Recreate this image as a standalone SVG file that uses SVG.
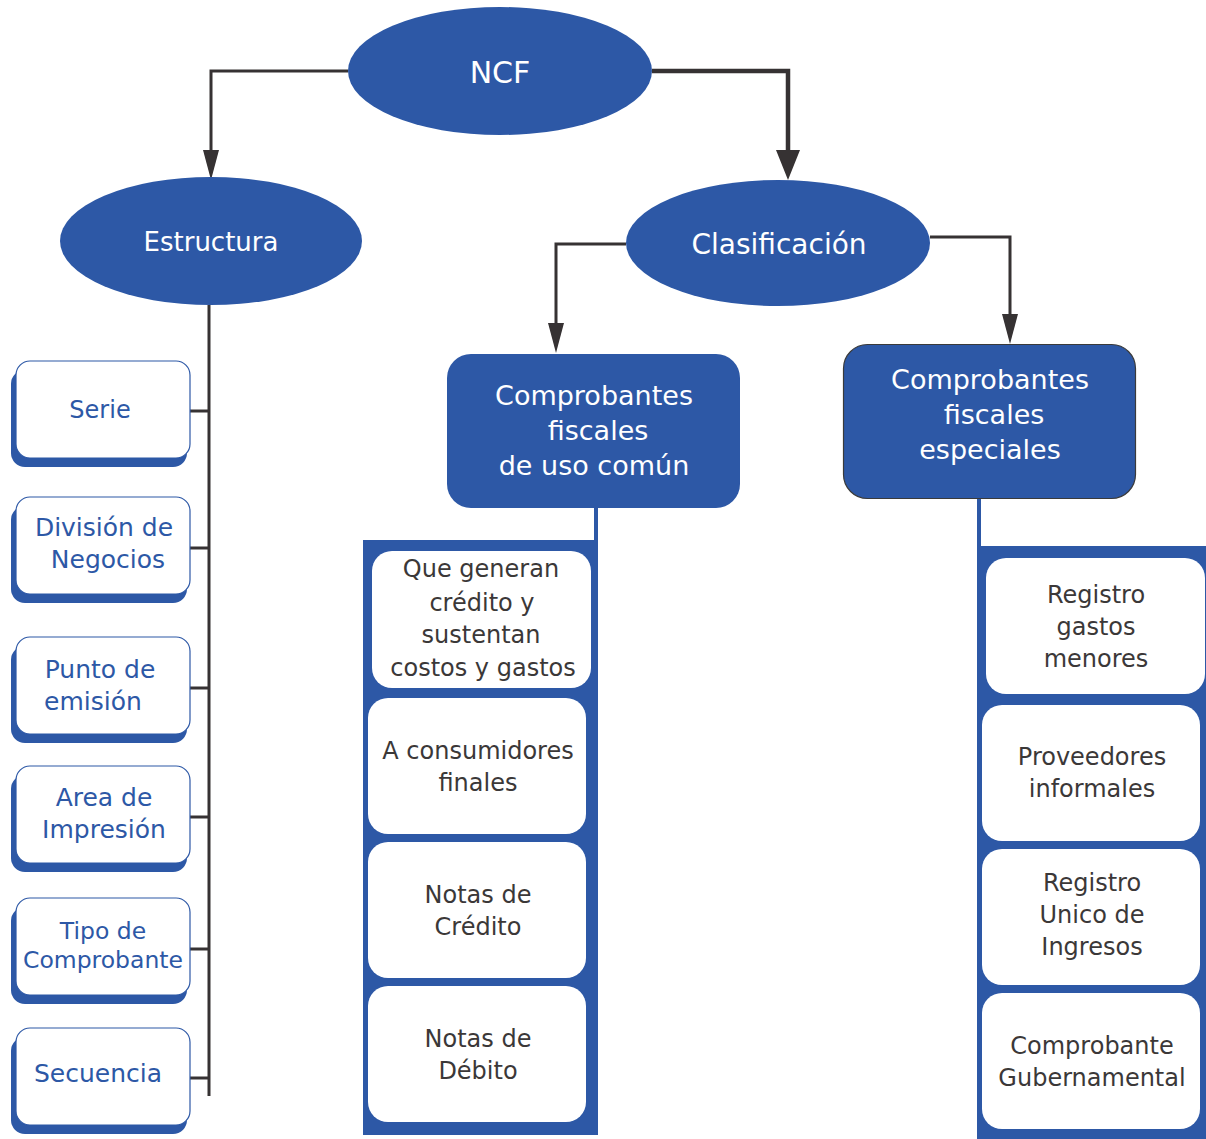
<svg xmlns="http://www.w3.org/2000/svg" width="1206" height="1139" viewBox="0 0 1206 1139">
<style>
text{font-family:"DejaVu Sans","Liberation Sans",sans-serif;text-anchor:middle;dominant-baseline:central}
.blue{fill:#2d58a6}
.wt{fill:#ffffff}
.lb{fill:#2d58a6;font-size:25px}
.gt{fill:#3b3838;font-size:24px}
.lbox{fill:#ffffff;stroke:#2d58a6;stroke-width:1.2}
.shadow{fill:#2d58a6}
.ibox{fill:#ffffff}
.ln{stroke:#363233;fill:none}
.ah{fill:#363233}
</style>
<rect width="1206" height="1139" fill="#ffffff"/>
<g id="connectors">
<polyline class="ln" stroke-width="3" points="348,71 211,71 211,152"/>
<polygon class="ah" points="203,150 219,150 211,180"/>
<polyline class="ln" stroke-width="4.5" points="652,71 788,71 788,152"/>
<polygon class="ah" points="776,150 800,150 788,180"/>
<polyline class="ln" stroke-width="3" points="626,244 556,244 556,325"/>
<polygon class="ah" points="548,323 564,323 556,353"/>
<polyline class="ln" stroke-width="3" points="930,237 1010,237 1010,316"/>
<polygon class="ah" points="1002,314 1018,314 1010,344"/>
<line class="ln" stroke-width="3" x1="209" y1="305" x2="209" y2="1096"/>
<line class="ln" stroke-width="3" x1="190" y1="411" x2="209" y2="411"/>
<line class="ln" stroke-width="3" x1="190" y1="548" x2="209" y2="548"/>
<line class="ln" stroke-width="3" x1="190" y1="688" x2="209" y2="688"/>
<line class="ln" stroke-width="3" x1="190" y1="817" x2="209" y2="817"/>
<line class="ln" stroke-width="3" x1="190" y1="949" x2="209" y2="949"/>
<line class="ln" stroke-width="3" x1="190" y1="1078" x2="209" y2="1078"/>
<rect class="blue" x="594" y="505" width="4" height="38"/>
<rect class="blue" x="977" y="495" width="4" height="54"/>
</g>
<g id="ncf">
<ellipse class="blue" cx="500" cy="71" rx="152" ry="64"/>
<text x="500" y="72" class="wt" style="font-size:30px">NCF</text>
</g>
<g id="estructura">
<ellipse class="blue" cx="211" cy="241" rx="151" ry="64"/>
<text x="211" y="242" class="wt" style="font-size:26px">Estructura</text>
</g>
<g id="clasificacion">
<ellipse class="blue" cx="778" cy="243" rx="152" ry="63"/>
<text x="779" y="244" class="wt" style="font-size:28px">Clasificación</text>
</g>
<g id="serie">
<rect class="shadow" x="11" y="370" width="176" height="97" rx="14"/>
<rect class="lbox" x="16" y="361" width="174" height="97" rx="14"/>
<text x="100" y="410" class="lb" style="font-size:24px">Serie</text>
</g>
<g id="division">
<rect class="shadow" x="11" y="506" width="176" height="97" rx="14"/>
<rect class="lbox" x="16" y="497" width="174" height="97" rx="14"/>
<text x="104" y="527" class="lb">División de</text>
<text x="108" y="559" class="lb">Negocios</text>
</g>
<g id="punto">
<rect class="shadow" x="11" y="646" width="176" height="97" rx="14"/>
<rect class="lbox" x="16" y="637" width="174" height="97" rx="14"/>
<text x="100" y="669" class="lb">Punto de</text>
<text x="93" y="701" class="lb">emisión</text>
</g>
<g id="area">
<rect class="shadow" x="11" y="775" width="176" height="97" rx="14"/>
<rect class="lbox" x="16" y="766" width="174" height="97" rx="14"/>
<text x="104" y="797" class="lb">Area de</text>
<text x="104" y="829" class="lb">Impresión</text>
</g>
<g id="tipo">
<rect class="shadow" x="11" y="907" width="176" height="97" rx="14"/>
<rect class="lbox" x="16" y="898" width="174" height="97" rx="14"/>
<text x="103" y="931" class="lb" style="font-size:23.5px">Tipo de</text>
<text x="103" y="960" class="lb" style="font-size:23.5px">Comprobante</text>
</g>
<g id="secuencia">
<rect class="shadow" x="11" y="1037" width="176" height="97" rx="14"/>
<rect class="lbox" x="16" y="1028" width="174" height="97" rx="14"/>
<text x="98" y="1073" class="lb">Secuencia</text>
</g>
<g id="uso-comun">
<rect class="blue" x="447" y="354" width="293" height="154" rx="24"/>
<text x="594" y="395" class="wt" style="font-size:27px">Comprobantes</text>
<text x="598" y="430" class="wt" style="font-size:27px">fiscales</text>
<text x="594" y="465" class="wt" style="font-size:27px">de uso común</text>
</g>
<g id="especiales">
<rect class="blue" x="843.5" y="344.5" width="292" height="154" rx="24" stroke="#3a3a3a" stroke-width="1.2"/>
<text x="990" y="379" class="wt" style="font-size:27px">Comprobantes</text>
<text x="994" y="414" class="wt" style="font-size:27px">fiscales</text>
<text x="990" y="449" class="wt" style="font-size:27px">especiales</text>
</g>
<g id="col-uso-comun">
<rect class="blue" x="363" y="540" width="235" height="595"/>
</g>
<g id="credito-fiscal">
<rect class="ibox" x="372" y="551" width="219" height="137" rx="20"/>
<text x="481" y="569" class="gt">Que generan</text>
<text x="482" y="603" class="gt">crédito y</text>
<text x="481" y="635" class="gt">sustentan</text>
<text x="483" y="668" class="gt">costos y gastos</text>
</g>
<g id="consumidores">
<rect class="ibox" x="368" y="698" width="218" height="136" rx="20"/>
<text x="478" y="751" class="gt">A consumidores</text>
<text x="478" y="783" class="gt">finales</text>
</g>
<g id="credito">
<rect class="ibox" x="368" y="842" width="218" height="136" rx="20"/>
<text x="478" y="895" class="gt">Notas de</text>
<text x="478" y="927" class="gt">Crédito</text>
</g>
<g id="debito">
<rect class="ibox" x="368" y="986" width="218" height="136" rx="20"/>
<text x="478" y="1039" class="gt">Notas de</text>
<text x="478" y="1071" class="gt">Débito</text>
</g>
<g id="col-especiales">
<rect class="blue" x="977" y="546" width="229" height="593"/>
</g>
<g id="gastos-menores">
<rect class="ibox" x="986" y="558" width="219" height="136" rx="20"/>
<text x="1096" y="595" class="gt">Registro</text>
<text x="1096" y="627" class="gt">gastos</text>
<text x="1096" y="659" class="gt">menores</text>
</g>
<g id="proveedores">
<rect class="ibox" x="982" y="705" width="218" height="136" rx="20"/>
<text x="1092" y="757" class="gt">Proveedores</text>
<text x="1092" y="789" class="gt">informales</text>
</g>
<g id="rui">
<rect class="ibox" x="982" y="849" width="218" height="136" rx="20"/>
<text x="1092" y="883" class="gt">Registro</text>
<text x="1092" y="915" class="gt">Unico de</text>
<text x="1092" y="947" class="gt">Ingresos</text>
</g>
<g id="gubernamental">
<rect class="ibox" x="982" y="993" width="218" height="136" rx="20"/>
<text x="1092" y="1046" class="gt">Comprobante</text>
<text x="1092" y="1078" class="gt">Gubernamental</text>
</g>
</svg>
